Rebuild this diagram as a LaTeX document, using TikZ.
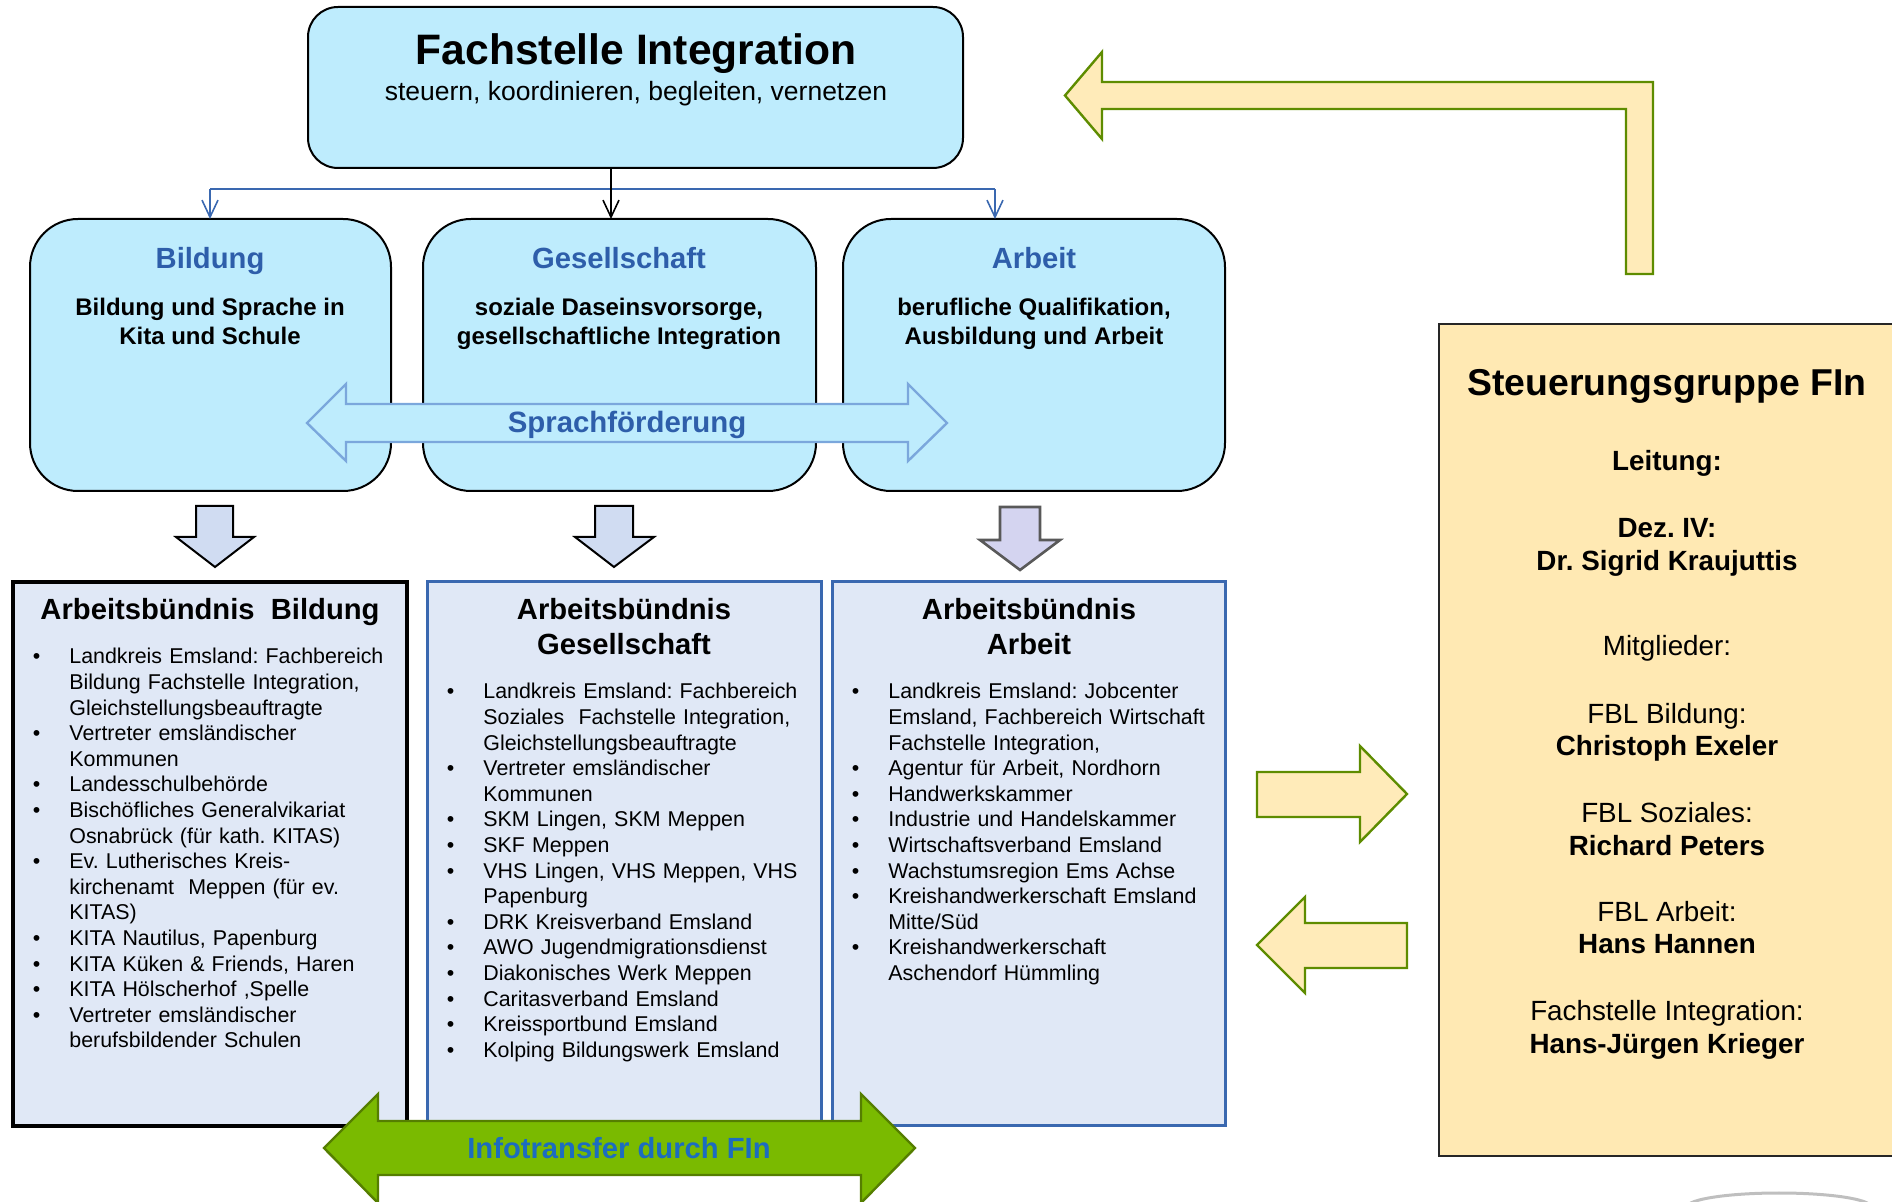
\documentclass[tikz,border=0pt]{standalone}
\usepackage{fontspec}
\setmainfont{Liberation Sans}
\usetikzlibrary{arrows.meta}
\definecolor{hellcyan}{RGB}{190,236,253}
\definecolor{titelblau}{RGB}{46,94,170}
\definecolor{listblau}{RGB}{224,232,246}
\definecolor{randblau}{RGB}{58,104,176}
\definecolor{pfeilblau}{RGB}{208,220,242}
\definecolor{pfeillila}{RGB}{212,212,240}
\definecolor{sprachrand}{RGB}{123,167,220}
\definecolor{gelb}{RGB}{255,235,185}
\definecolor{gruenrand}{RGB}{94,140,0}
\definecolor{gruen}{RGB}{122,186,0}
\definecolor{infoblau}{RGB}{28,108,192}
\definecolor{steuergelb}{RGB}{255,233,179}
\frenchspacing
\setlength{\parindent}{0pt}
\newcommand{\punkt}{\hangindent=18.25pt\hangafter=1\noindent\makebox[18.25pt][l]{\textbullet}}
\begin{document}
\begin{tikzpicture}[x=0.5pt,y=-0.5pt,line join=miter,
  kasten/.style={draw,fill=hellcyan,line width=1pt,rounded corners=24pt,inner sep=0,outer sep=0},
  buendnis/.style={draw=randblau,fill=listblau,line width=1.5pt,inner sep=0,outer sep=0},
  txt/.style={inner sep=0,anchor=base},
  kopf/.style={txt,font=\fontsize{14.6}{17}\selectfont\bfseries,text=titelblau},
  unterkopf/.style={txt,font=\fontsize{12}{14}\selectfont\bfseries},
  ueberschrift/.style={txt,font=\fontsize{14.6}{17}\selectfont\bfseries},
  liste/.style={inner sep=0,anchor=base west,align=left,font=\fontsize{10.7}{12.8}\selectfont},
  steuertext/.style={txt,font=\fontsize{13.9}{16}\selectfont},
  steuerfett/.style={txt,font=\fontsize{13.9}{16}\selectfont\bfseries},
  blockpfeil/.style={draw=black,fill=pfeilblau,line width=1pt},
  gelbpfeil/.style={draw=gruenrand,fill=gelb,line width=1.2pt},
  verbinder/.style={draw=randblau,line width=0.8pt},
  spitze/.style={-{Straight Barb[length=8.5pt,width=8pt]}}]
\useasboundingbox (0,0) rectangle (1892,1202);

\node[kasten,rounded corners=15pt,minimum width=327.5pt,minimum height=80.5pt] (fi) at (635.5,87.5) {};
\node[txt,font=\fontsize{21.3}{25}\selectfont\bfseries] (fititel) at (636,65) {Fachstelle Integration};
\node[txt,font=\fontsize{13.25}{16}\selectfont] (fisub) at (636,101) {steuern, koordinieren, begleiten, vernetzen};

\node[kasten,minimum width=180.5pt,minimum height=136pt] (bil) at (210.5,355) {};
\node[kasten,minimum width=196.5pt,minimum height=136pt] (ges) at (619.5,355) {};
\node[kasten,minimum width=191pt,minimum height=136pt] (arb) at (1034,355) {};
\node[kopf] (bilkopf) at (210,269) {Bildung};
\node[unterkopf] (bilz1) at (210,316) {Bildung und Sprache in};
\node[unterkopf] (bilz2) at (210,345) {Kita und Schule};
\node[kopf] (geskopf) at (619,269) {Gesellschaft};
\node[unterkopf] (gesz1) at (619,316) {soziale Daseinsvorsorge,};
\node[unterkopf] (gesz2) at (619,345) {gesellschaftliche Integration};
\node[kopf] (arbkopf) at (1034,269) {Arbeit};
\node[unterkopf] (arbz1) at (1034,316) {berufliche Qualifikation,};
\node[unterkopf] (arbz2) at (1034,345) {Ausbildung und Arbeit};

\coordinate (busL) at (210,189);
\coordinate (busM) at (611,189);
\coordinate (busR) at (995,189);
\draw[verbinder] (busL) -- (busR);
\draw[verbinder,spitze] (busL) -- (busL |- bil.north);
\draw[verbinder,spitze] (busR) -- (busR |- arb.north);
\draw[line width=0.8pt,spitze] (busM |- fi.south) -- (busM |- ges.north);

\draw[draw=sprachrand,fill=hellcyan,line width=1.2pt] (307,423) -- (346,384) -- (346,404) -- (908,404) -- (908,384) -- (947,423) -- (908,461) -- (908,442) -- (346,442) -- (346,461) -- cycle;
\node[txt,font=\fontsize{14.7}{17}\selectfont\bfseries,text=titelblau] (sprach) at (627,433) {Sprachförderung};

\draw[blockpfeil] (196,506) -- (233,506) -- (233,537) -- (254,537) -- (215,567) -- (176,537) -- (196,537) -- cycle;
\draw[blockpfeil] (595,506) -- (633,506) -- (633,537) -- (654,537) -- (614,567) -- (575,537) -- (595,537) -- cycle;
\draw[blockpfeil,draw=black!65,fill=pfeillila,line width=1.3pt] (1000,507) -- (1040,507) -- (1040,540) -- (1060,540) -- (1020,570) -- (980,540) -- (1000,540) -- cycle;

\node[buendnis,draw=black,line width=2pt,minimum width=197pt,minimum height=272pt] (abbil) at (210,854) {};
\node[buendnis,minimum width=197pt,minimum height=272pt] (abges) at (624,854) {};
\node[buendnis,minimum width=196.5pt,minimum height=272pt] (abarb) at (1028.5,854) {};

\node[ueberschrift] (abbilkopf) at (210,620) {Arbeitsbündnis\ \ Bildung};
\node[ueberschrift] (abgeskopf1) at (624,620) {Arbeitsbündnis};
\node[ueberschrift] (abgeskopf2) at (624,655) {Gesellschaft};
\node[ueberschrift] (abarbkopf1) at (1029,620) {Arbeitsbündnis};
\node[ueberschrift] (abarbkopf2) at (1029,655) {Arbeit};

\node[liste,text width=185pt] (billiste) at (32.5,664) {%
\punkt Landkreis Emsland: Fachbereich\newline Bildung Fachstelle Integration,\newline Gleichstellungsbeauftragte\par
\punkt Vertreter emsländischer\newline Kommunen\par
\punkt Landesschulbehörde\par
\punkt Bischöfliches Generalvikariat\newline Osnabrück (für kath. KITAS)\par
\punkt Ev. Lutherisches Kreis-\newline kirchenamt\ \ Meppen (für ev.\newline KITAS)\par
\punkt KITA Nautilus, Papenburg\par
\punkt KITA Küken \& Friends, Haren\par
\punkt KITA Hölscherhof ,Spelle\par
\punkt Vertreter emsländischer\newline berufsbildender Schulen\par};

\node[liste,text width=190pt] (gesliste) at (446.5,699) {%
\punkt Landkreis Emsland: Fachbereich\newline Soziales\ \ Fachstelle Integration,\newline Gleichstellungsbeauftragte\par
\punkt Vertreter emsländischer\newline Kommunen\par
\punkt SKM Lingen, SKM Meppen\par
\punkt SKF Meppen\par
\punkt VHS Lingen, VHS Meppen, VHS\newline Papenburg\par
\punkt DRK Kreisverband Emsland\par
\punkt AWO Jugendmigrationsdienst\par
\punkt Diakonisches Werk Meppen\par
\punkt Caritasverband Emsland\par
\punkt Kreissportbund Emsland\par
\punkt Kolping Bildungswerk Emsland\par};

\node[liste,text width=190pt] (arbliste) at (851.5,699) {%
\punkt Landkreis Emsland: Jobcenter\newline Emsland, Fachbereich Wirtschaft\newline Fachstelle Integration,\par
\punkt Agentur für Arbeit, Nordhorn\par
\punkt Handwerkskammer\par
\punkt Industrie und Handelskammer\par
\punkt Wirtschaftsverband Emsland\par
\punkt Wachstumsregion Ems Achse\par
\punkt Kreishandwerkerschaft Emsland\newline Mitte/Süd\par
\punkt Kreishandwerkerschaft\newline Aschendorf Hümmling\par};

\draw[draw=gruenrand!90!black,fill=gruen,line width=1.2pt] (324,1148) -- (378,1094) -- (378,1121) -- (861,1121) -- (861,1094) -- (915,1148) -- (861,1203) -- (861,1175) -- (378,1175) -- (378,1203) -- cycle;
\node[txt,font=\fontsize{14.6}{17}\selectfont\bfseries,text=infoblau] (info) at (619,1159) {Infotransfer durch FIn};

\node[draw=black!85,fill=steuergelb,line width=1pt,inner sep=0,minimum width=228.5pt,minimum height=416pt] (steuer) at (1667.5,740) {};
\node[txt,font=\fontsize{18.7}{22}\selectfont\bfseries] (steuertitel) at (1667,396) {Steuerungsgruppe FIn};
\node[steuerfett] (leitung) at (1667,471) {Leitung:};
\node[steuerfett] (dez) at (1667,538) {Dez. IV:};
\node[steuerfett] (leiterin) at (1667,571) {Dr. Sigrid Kraujuttis};
\node[steuertext] (mitglieder) at (1667,656) {Mitglieder:};
\node[steuertext] (fblbil) at (1667,724) {FBL Bildung:};
\node[steuerfett] (exeler) at (1667,756) {Christoph Exeler};
\node[steuertext] (fblsoz) at (1667,823) {FBL Soziales:};
\node[steuerfett] (peters) at (1667,856) {Richard Peters};
\node[steuertext] (fblarb) at (1667,922) {FBL Arbeit:};
\node[steuerfett] (hannen) at (1667,954) {Hans Hannen};
\node[steuertext] (fsi) at (1667,1021) {Fachstelle Integration:};
\node[steuerfett] (krieger) at (1667,1054) {Hans-Jürgen Krieger};

\draw[gelbpfeil] (1653,274) -- (1653,82) -- (1102,82) -- (1102,52) -- (1065,95.5) -- (1102,139) -- (1102,109) -- (1626,109) -- (1626,274) -- cycle;
\draw[gelbpfeil] (1257,772) -- (1360,772) -- (1360,746) -- (1407,794) -- (1360,842) -- (1360,817) -- (1257,817) -- cycle;
\draw[gelbpfeil] (1407,923) -- (1305,923) -- (1305,897) -- (1257,945) -- (1305,993) -- (1305,968) -- (1407,968) -- cycle;

\draw[black!25,line width=1.5pt] (1687,1207) arc[start angle=180,end angle=360,x radius=92,y radius=14];
\end{tikzpicture}
\end{document}
